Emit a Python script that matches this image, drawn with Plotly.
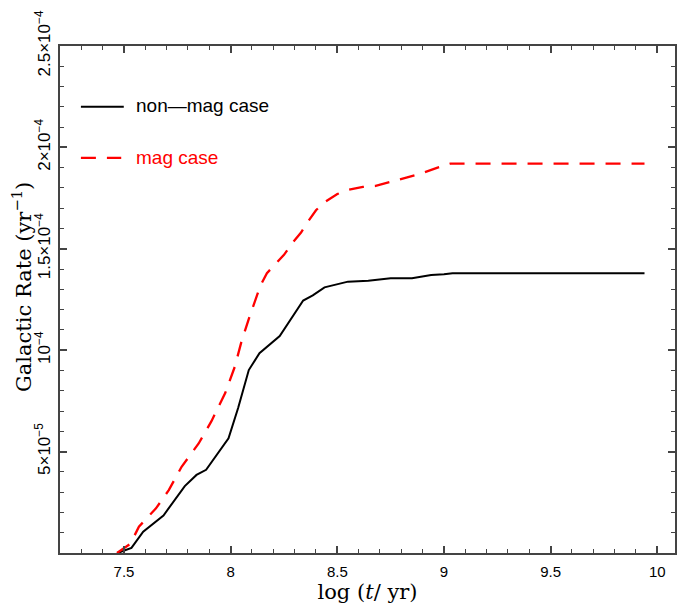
import plotly.graph_objects as go

# Data
nonmag_logt = [7.47, 7.535, 7.59, 7.685, 7.785, 7.84, 7.885, 7.95, 7.99, 8.035, 8.085, 8.135,
               8.23, 8.34, 8.385, 8.44, 8.50, 8.55, 8.645, 8.75, 8.85, 8.94, 9.0, 9.04, 9.94]
nonmag_rate = [0.0, 0.25, 1.05, 1.85, 3.3, 3.85, 4.1, 5.05, 5.65, 7.15, 9.02, 9.85,
               10.7, 12.45, 12.7, 13.1, 13.25, 13.38, 13.43, 13.55, 13.55, 13.71, 13.74, 13.79, 13.79]

mag_logt = [7.467, 7.53, 7.57, 7.65, 7.71, 7.77, 7.85, 7.91, 7.975, 8.02, 8.05, 8.09, 8.14,
            8.17, 8.21, 8.25, 8.29, 8.33, 8.36, 8.40, 8.44, 8.50, 8.55, 8.62, 8.68, 8.78,
            8.89, 8.97, 9.03, 9.94]
mag_rate = [0.0, 0.45, 1.3, 2.2, 3.1, 4.25, 5.4, 6.5, 7.9, 9.2, 10.4, 11.7, 13.2,
            13.8, 14.25, 14.7, 15.3, 15.8, 16.3, 16.9, 17.3, 17.7, 17.9, 18.05, 18.1, 18.4,
            18.7, 19.0, 19.2, 19.2]
rate_unit = 1e-5

y_tickvals = [5e-5, 1e-4, 1.5e-4, 2e-4, 2.5e-4]
y_ticktext = ["5×10<sup>−5</sup>", "10<sup>−4</sup>", "1.5×10<sup>−4</sup>",
              "2×10<sup>−4</sup>", "2.5×10<sup>−4</sup>"]
y_minor = [i * 1e-5 for i in range(0, 26)]

series_names = ["non—mag case", "mag case"]

fig = go.Figure()
fig.add_trace(go.Scatter(x=nonmag_logt, y=[v * rate_unit for v in nonmag_rate], mode="lines",
                         line=dict(color="black", width=2), name=series_names[0], showlegend=False))
fig.add_trace(go.Scatter(x=mag_logt, y=[v * rate_unit for v in mag_rate], mode="lines",
                         line=dict(color="#ff0000", width=2.3, dash="15px,11px"),
                         name=series_names[1], showlegend=False))

# legend drawn manually
fig.add_shape(type="line", xref="x", yref="y", x0=7.298, x1=7.499, y0=2.20e-4, y1=2.20e-4,
              line=dict(color="black", width=2))
fig.add_shape(type="line", xref="x", yref="y", x0=7.298, x1=7.487, y0=1.948e-4, y1=1.948e-4,
              line=dict(color="#ff0000", width=2.3, dash="15px,11px"))
fig.add_annotation(x=7.548, y=2.205e-4, xref="x", yref="y", text=series_names[0], showarrow=False,
                   xanchor="left", yanchor="middle",
                   font=dict(family="Liberation Sans, Arial", size=19, color="black"))
fig.add_annotation(x=7.548, y=1.95e-4, xref="x", yref="y", text=series_names[1], showarrow=False,
                   xanchor="left", yanchor="middle",
                   font=dict(family="Liberation Sans, Arial", size=19, color="#ff0000"))

# y-axis title as an annotation for exact placement
fig.add_annotation(x=-38 / 617, y=0.525, xref="paper", yref="paper",
                   text="Galactic Rate (yr<sup>−1</sup>)", showarrow=False, textangle=-90,
                   xanchor="center", yanchor="middle",
                   font=dict(family="DejaVu Serif", size=21, color="black"))

axcol = "#444444"
fig.update_layout(
    width=677, height=607,
    margin=dict(l=60, r=0, t=46, b=54),
    plot_bgcolor="white", paper_bgcolor="white",
    xaxis=dict(
        range=[7.2, 10.083], showgrid=False, zeroline=False,
        showline=True, linecolor=axcol, linewidth=1.5, mirror="ticks",
        tickmode="linear", tick0=7.5, dtick=0.5,
        ticks="inside", ticklen=7, tickwidth=1.5, tickcolor=axcol,
        minor=dict(ticks="inside", ticklen=4, tickwidth=1.2, tickcolor=axcol, dtick=0.1, tick0=7.5),
        tickfont=dict(family="Liberation Sans, Arial", size=15, color="black"),
        ticklabelstandoff=4,
        title=dict(text="log (<i>t</i>/ yr)", font=dict(family="DejaVu Serif", size=21, color="black"),
                   standoff=0),
    ),
    yaxis=dict(
        range=[0, 2.5e-4], showgrid=False, zeroline=False,
        showline=True, linecolor=axcol, linewidth=1.5, mirror="ticks",
        tickmode="array", tickvals=y_tickvals, ticktext=y_ticktext, tickangle=-90,
        ticks="inside", ticklen=7, tickwidth=1.5, tickcolor=axcol,
        minor=dict(ticks="inside", ticklen=4, tickwidth=1.2, tickcolor=axcol,
                   tickmode="array", tickvals=y_minor),
        tickfont=dict(family="Liberation Sans, Arial", size=17, color="black"),
        ticklabelstandoff=1,
    ),
)

fig.write_html("out.html", post_script="document.body.style.margin='0px';",
               config={"displayModeBar": False})
